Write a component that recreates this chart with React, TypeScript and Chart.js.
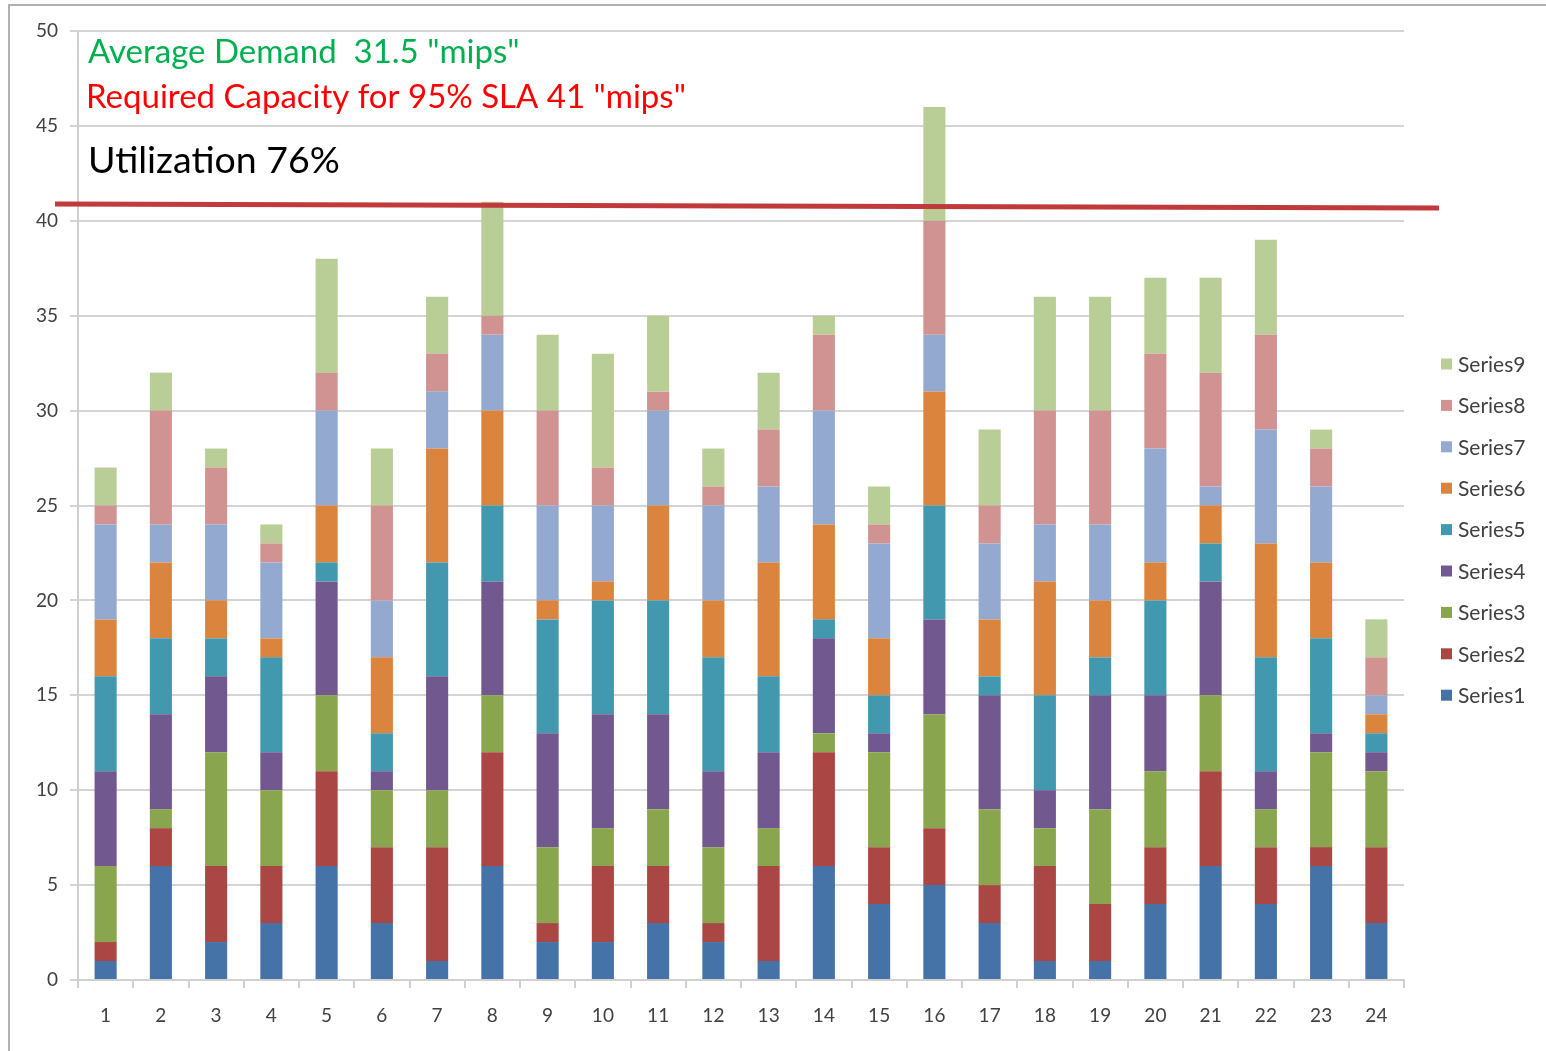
import React, { useEffect, useRef } from "react";
import { Chart, registerables } from "chart.js";

Chart.register(...registerables);

const categories = ["1","2","3","4","5","6","7","8","9","10","11","12","13","14","15","16","17","18","19","20","21","22","23","24"];

const series1 = [1,6,2,3,6,3,1,6,2,2,3,2,1,6,4,5,3,1,1,4,6,4,6,3];
const series2 = [1,2,4,3,5,4,6,6,1,4,3,1,5,6,3,3,2,5,3,3,5,3,1,4];
const series3 = [4,1,6,4,4,3,3,3,4,2,3,4,2,1,5,6,4,2,5,4,4,2,5,4];
const series4 = [5,5,4,2,6,1,6,6,6,6,5,4,4,5,1,5,6,2,6,4,6,2,1,1];
const series5 = [5,4,2,5,1,2,6,4,6,6,6,6,4,1,2,6,1,5,2,5,2,6,5,1];
const series6 = [3,4,2,1,3,4,6,5,1,1,5,3,6,5,3,6,3,6,3,2,2,6,4,1];
const series7 = [5,2,4,4,5,3,3,4,5,4,5,5,4,6,5,3,4,3,4,6,1,6,4,1];
const series8 = [1,6,3,1,2,5,2,1,5,2,1,1,3,4,1,6,2,6,6,5,6,5,2,2];
const series9 = [2,2,1,1,6,3,3,6,4,6,4,2,3,1,2,6,4,6,6,4,5,5,1,2];

const seriesNames = ["Series1","Series2","Series3","Series4","Series5","Series6","Series7","Series8","Series9"];
const seriesColors = ["#4572A7","#AA4643","#89A54E","#71588F","#4198AF","#DB843D","#93A9CF","#D19392","#B9CD96"];

const yTicks = [0,5,10,15,20,25,30,35,40,45,50];

// Required capacity line (hand drawn, slightly slanted) at ~41 "mips"
const capacityLine = [40.88, 40.67];

const annotationLines = [
  { text: "Average Demand  31.5 \"mips\"", color: "#00B050", size: 33, dx: 10 },
  { text: "Required Capacity for 95% SLA 41 \"mips\"", color: "#FF0000", size: 33, dx: 8 },
  { text: "Utilization 76%", color: "#000000", size: 37.5, dx: 10 },
];

const FONT = "Lato, 'Liberation Sans', sans-serif";

const overlayPlugin = {
  id: "overlay",
  afterDraw(chart: any) {
    const { ctx, chartArea, scales } = chart;
    const y = scales.y;
    ctx.save();
    // capacity line
    ctx.strokeStyle = "#C0393B";
    ctx.lineWidth = 5;
    ctx.beginPath();
    ctx.moveTo(chartArea.left - 23, y.getPixelForValue(capacityLine[0]));
    ctx.lineTo(chartArea.right + 35, y.getPixelForValue(capacityLine[1]));
    ctx.stroke();

    // annotation texts
    const offsets = [21, 66, 130];
    ctx.textBaseline = "middle";
    ctx.textAlign = "left";
    annotationLines.forEach((a, i) => {
      ctx.fillStyle = a.color;
      ctx.font = `${a.size}px ${FONT}`;
      ctx.fillText(a.text, chartArea.left + a.dx, chartArea.top + offsets[i]);
    });

    // legend (reverse order)
    const ds = chart.data.datasets;
    const startY = chartArea.top + 333;
    const step = 41.4;
    ctx.font = `21px ${FONT}`;
    for (let i = 0; i < ds.length; i++) {
      const d = ds[ds.length - 1 - i];
      const cy = startY + i * step;
      const bx = chartArea.right + 37;
      ctx.fillStyle = d.backgroundColor;
      ctx.fillRect(bx, cy - 5.5, 11, 11);
      ctx.fillStyle = "#404040";
      ctx.fillText(d.label, bx + 17, cy + 1);
    }
    ctx.restore();
  },
};

export default function App() {
  const ref = useRef<HTMLCanvasElement>(null);

  useEffect(() => {
    const all = [series1, series2, series3, series4, series5, series6, series7, series8, series9];
    const chart = new Chart(ref.current as HTMLCanvasElement, {
      type: "bar",
      data: {
        labels: categories,
        datasets: all.map((data, i) => ({
          label: seriesNames[i],
          data,
          backgroundColor: seriesColors[i],
          borderWidth: 0,
          barPercentage: 0.4,
          categoryPercentage: 1,
        })),
      },
      options: {
        animation: false,
        responsive: false,
        maintainAspectRatio: false,
        layout: { padding: { left: 0, right: 142, top: 31, bottom: 11 } },
        plugins: {
          legend: { display: false },
          tooltip: { enabled: false },
        },
        scales: {
          x: {
            stacked: true,
            grid: {
              drawOnChartArea: false,
              drawTicks: true,
              tickLength: 8,
              color: "#d0d0d0",
              lineWidth: 2,
              offset: true,
            },
            border: { display: true, color: "#d0d0d0", width: 2 },
            ticks: {
              color: "#404040",
              font: { size: 19, family: FONT },
              padding: 16,
              maxRotation: 0,
            },
            afterFit(scale: any) {
              scale.height = 60;
            },
          },
          y: {
            stacked: true,
            min: 0,
            max: 50,
            afterBuildTicks(scale: any) {
              scale.ticks = yTicks.map((v) => ({ value: v }));
            },
            grid: {
              color: "#d4d4d4",
              lineWidth: 2,
              tickLength: 8,
              drawTicks: true,
            },
            border: { display: true, color: "#d0d0d0", width: 2 },
            ticks: {
              color: "#404040",
              font: { size: 19, family: FONT },
              padding: 12,
            },
            afterFit(scale: any) {
              scale.width = 78;
            },
          },
        },
      },
      plugins: [overlayPlugin],
    });
    return () => chart.destroy();
  }, []);

  return (
    <div style={{ position: "absolute", left: 0, top: 0, width: 1546, height: 1051, background: "#fff", overflow: "hidden" }}>
      <div
        style={{
          position: "absolute",
          left: 8,
          top: 4,
          width: 1560,
          height: 1060,
          borderTop: "2px solid #b0b0b0",
          borderLeft: "2px solid #b0b0b0",
        }}
      />
      <canvas ref={ref} width={1546} height={1051} style={{ position: "absolute", left: 0, top: 0 }} />
    </div>
  );
}
